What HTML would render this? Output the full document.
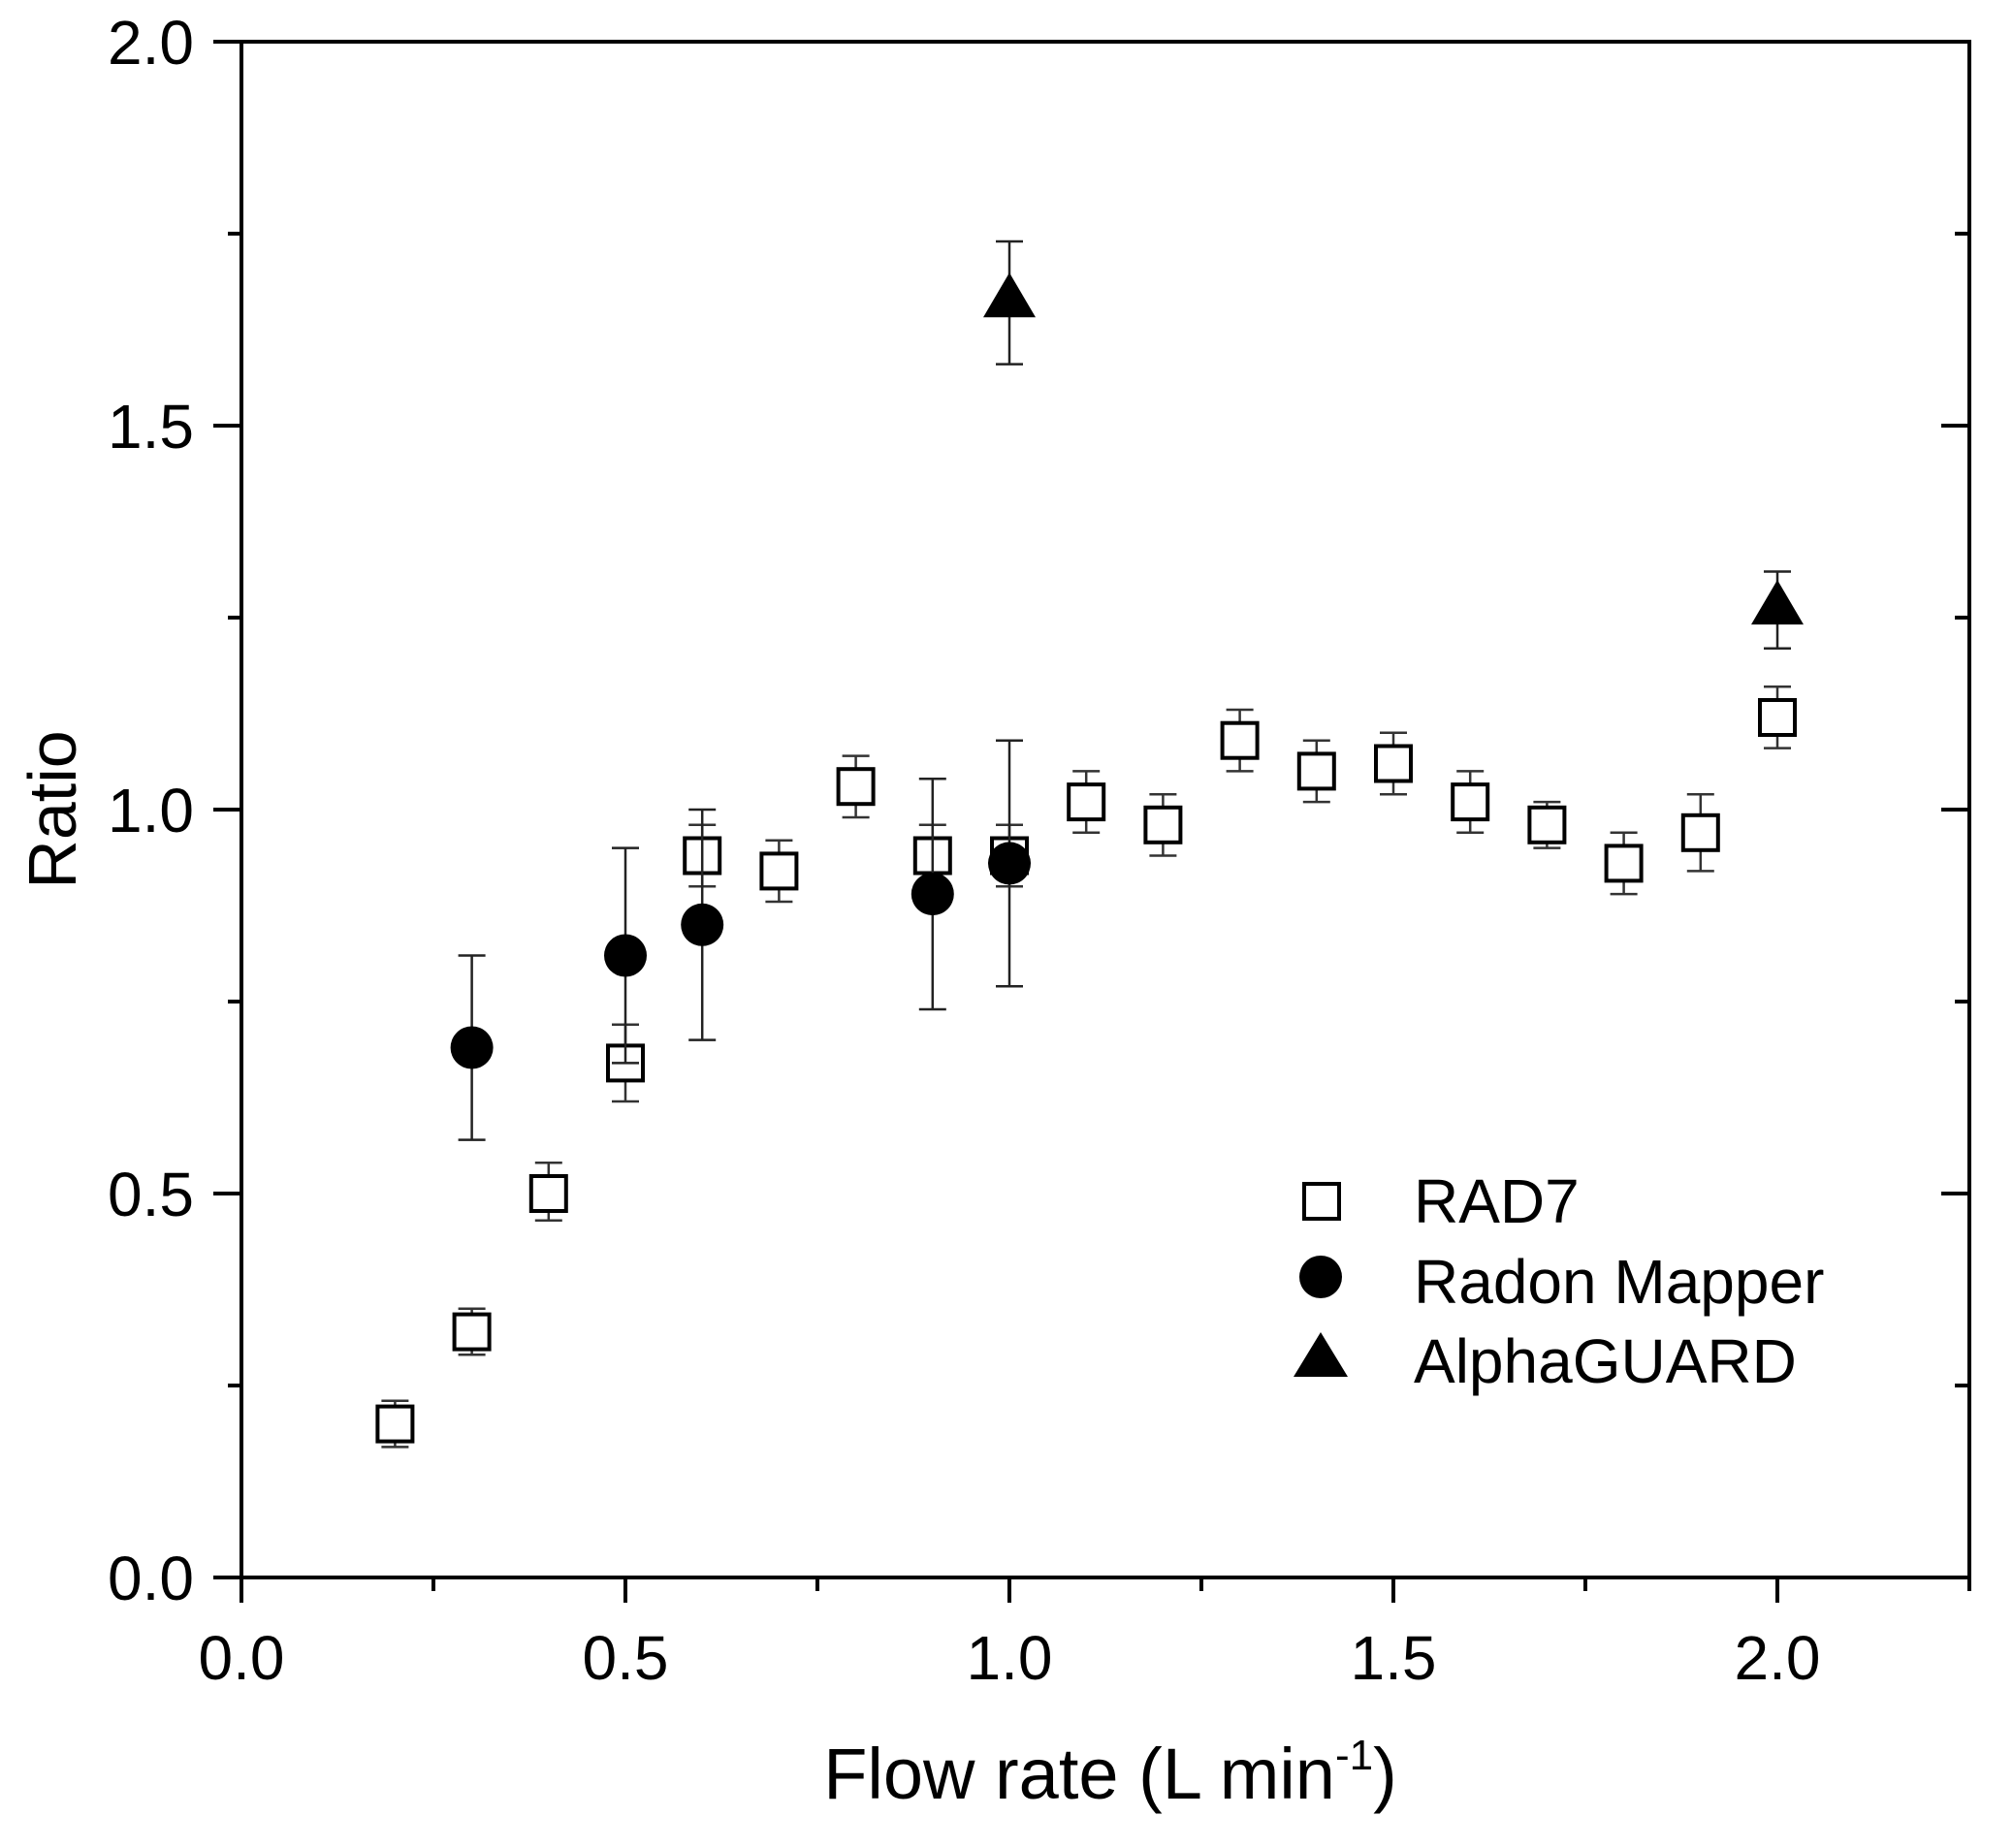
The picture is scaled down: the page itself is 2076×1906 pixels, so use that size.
<!DOCTYPE html>
<html><head><meta charset="utf-8"><style>
html,body{margin:0;padding:0;background:#fff;}
svg{display:block;}
text{font-family:"Liberation Sans",Arial,sans-serif;fill:#000;}
</style></head><body>
<svg width="2076" height="1906" viewBox="0 0 2076 1906" xmlns="http://www.w3.org/2000/svg">
<g stroke="#333" stroke-width="2.5" fill="none">
<path d="M407.4 1492.4V1444.8M393.4 1492.4h28M393.4 1444.8h28"/>
<path d="M486.6 1397.3V1349.8M472.6 1397.3h28M472.6 1349.8h28"/>
<path d="M565.8 1258.7V1199.3M551.8 1258.7h28M551.8 1199.3h28"/>
<path d="M645 1136V1056.8M631 1136h28M631 1056.8h28"/>
<path d="M724.2 914.2V850.8M710.2 914.2h28M710.2 850.8h28"/>
<path d="M803.4 930V866.7M789.4 930h28M789.4 866.7h28"/>
<path d="M882.6 843V779.6M868.6 843h28M868.6 779.6h28"/>
<path d="M961.8 914.2V850.8M947.8 914.2h28M947.8 850.8h28"/>
<path d="M1041 914.2V850.8M1027 914.2h28M1027 850.8h28"/>
<path d="M1120.2 858.8V795.4M1106.2 858.8h28M1106.2 795.4h28"/>
<path d="M1199.4 882.5V819.2M1185.4 882.5h28M1185.4 819.2h28"/>
<path d="M1278.6 795.4V732M1264.6 795.4h28M1264.6 732h28"/>
<path d="M1357.8 827.1V763.7M1343.8 827.1h28M1343.8 763.7h28"/>
<path d="M1437 819.2V755.8M1423 819.2h28M1423 755.8h28"/>
<path d="M1516.2 858.8V795.4M1502.2 858.8h28M1502.2 795.4h28"/>
<path d="M1595.4 874.6V827.1M1581.4 874.6h28M1581.4 827.1h28"/>
<path d="M1674.6 922.1V858.8M1660.6 922.1h28M1660.6 858.8h28"/>
<path d="M1753.8 898.4V819.2M1739.8 898.4h28M1739.8 819.2h28"/>
<path d="M1833 771.6V708.3M1819 771.6h28M1819 708.3h28"/>
</g>
<g fill="#fff" stroke="#000" stroke-width="4">
<rect x="389.4" y="1450.6" width="36" height="36"/>
<rect x="468.6" y="1355.6" width="36" height="36"/>
<rect x="547.8" y="1213" width="36" height="36"/>
<rect x="627" y="1078.4" width="36" height="36"/>
<rect x="706.2" y="864.5" width="36" height="36"/>
<rect x="785.4" y="880.4" width="36" height="36"/>
<rect x="864.6" y="793.2" width="36" height="36"/>
<rect x="943.8" y="864.5" width="36" height="36"/>
<rect x="1023" y="864.5" width="36" height="36"/>
<rect x="1102.2" y="809.1" width="36" height="36"/>
<rect x="1181.4" y="832.8" width="36" height="36"/>
<rect x="1260.6" y="745.7" width="36" height="36"/>
<rect x="1339.8" y="777.4" width="36" height="36"/>
<rect x="1419" y="769.5" width="36" height="36"/>
<rect x="1498.2" y="809.1" width="36" height="36"/>
<rect x="1577.4" y="832.8" width="36" height="36"/>
<rect x="1656.6" y="872.4" width="36" height="36"/>
<rect x="1735.8" y="840.8" width="36" height="36"/>
<rect x="1815" y="722" width="36" height="36"/>
</g>
<g stroke="#222" stroke-width="2.5" fill="none">
<path d="M486.6 1175.6V985.5M472.6 1175.6h28M472.6 985.5h28"/>
<path d="M645 1096.4V874.6M631 1096.4h28M631 874.6h28"/>
<path d="M724.2 1072.6V835M710.2 1072.6h28M710.2 835h28"/>
<path d="M961.8 1041V803.3M947.8 1041h28M947.8 803.3h28"/>
<path d="M1041 1017.2V763.7M1027 1017.2h28M1027 763.7h28"/>
<path d="M1041 375.6V249M1027 375.6h28M1027 249h28"/>
<path d="M1833 668.7V589.5M1819 668.7h28M1819 589.5h28"/>
</g>
<g fill="#000">
<circle cx="486.6" cy="1080.5" r="22"/>
<circle cx="645" cy="985.5" r="22"/>
<circle cx="724.2" cy="953.8" r="22"/>
<circle cx="961.8" cy="922.1" r="22"/>
<circle cx="1041" cy="890.4" r="22"/>
<polygon points="1014,327.3 1068,327.3 1041,281.3"/>
<polygon points="1806,644.1 1860,644.1 1833,598.1"/>
</g>
<rect x="249" y="43" width="1782" height="1584" fill="none" stroke="#000" stroke-width="4"/>
<g stroke="#000" stroke-width="4">
<path d="M220 1627H249M235 1429H249M220 1231H249M235 1033H249M220 835H249M235 637H249M220 439H249M235 241H249M220 43H249"/>
<path d="M2031 1627H2002M2031 1429H2016M2031 1231H2002M2031 1033H2016M2031 835H2002M2031 637H2016M2031 439H2002M2031 241H2016"/>
<path d="M249 1627V1653M447 1627V1641M645 1627V1653M843 1627V1641M1041 1627V1653M1239 1627V1641M1437 1627V1653M1635 1627V1641M1833 1627V1653M2031 1627V1641"/>
</g>
<g font-size="64" text-anchor="end">
<text x="200" y="1650">0.0</text>
<text x="200" y="1254">0.5</text>
<text x="200" y="858">1.0</text>
<text x="200" y="462">1.5</text>
<text x="200" y="66">2.0</text>
</g>
<g font-size="64" text-anchor="middle">
<text x="249" y="1732">0.0</text>
<text x="645" y="1732">0.5</text>
<text x="1041" y="1732">1.0</text>
<text x="1437" y="1732">1.5</text>
<text x="1833" y="1732">2.0</text>
</g>
<text x="1145" y="1855" font-size="74" text-anchor="middle">Flow rate (L min<tspan font-size="44" dy="-30">-1</tspan><tspan dy="30">)</tspan></text>
<text transform="translate(78,835) rotate(-90)" font-size="70" text-anchor="middle">Ratio</text>
<rect x="1345" y="1221" width="36" height="36" fill="#fff" stroke="#000" stroke-width="4"/>
<circle cx="1362" cy="1317" r="22" fill="#000"/>
<polygon points="1334,1420 1390,1420 1362,1374" fill="#000"/>
<text x="1458" y="1261" font-size="64">RAD7</text>
<text x="1458" y="1344" font-size="64">Radon Mapper</text>
<text x="1458" y="1426" font-size="64">AlphaGUARD</text>
</svg>
</body></html>
